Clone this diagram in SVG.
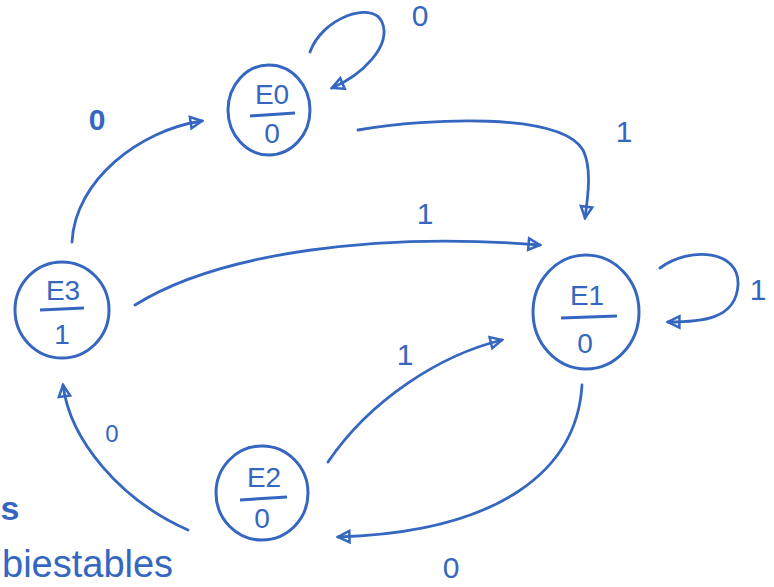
<svg xmlns="http://www.w3.org/2000/svg" width="774" height="587" viewBox="0 0 774 587">
<defs>
<style>
.n{fill:none;stroke:#3567c0;stroke-width:3}
.e{fill:none;stroke:#3567c0;stroke-width:2.8;stroke-linecap:round}
.t{font-family:"Liberation Sans",Arial,sans-serif;fill:#3567c0;text-anchor:middle}
.s{font-size:28px}
.l{font-size:30px}
</style>
<marker id="tri" viewBox="0 0 14 14" refX="12" refY="7" markerWidth="16" markerHeight="16" orient="auto" markerUnits="userSpaceOnUse">
<path d="M2 2 L12 7 L2 12 Z" fill="none" stroke="#3567c0" stroke-width="2.2"/>
</marker>
</defs>
<rect width="774" height="587" fill="#fff"/>
<g id="connectors">
<path class="e" d="M310 52 C322 18 372 0 382 22 C392 46 362 75 332 88" marker-end="url(#tri)"/>
<path class="e" d="M358 130 C430 118 560 112 583 150 C592 168 588 196 585 218" marker-end="url(#tri)"/>
<path class="e" d="M135 305 C220 252 380 232 540 245" marker-end="url(#tri)"/>
<path class="e" d="M72 242 C75 180 140 130 202 121" marker-end="url(#tri)"/>
<path class="e" d="M660 268 C690 246 740 250 738 285 C736 320 700 322 668 322" marker-end="url(#tri)"/>
<path class="e" d="M328 462 C370 400 440 355 502 340" marker-end="url(#tri)"/>
<path class="e" d="M582 385 C577 470 500 532 338 537" marker-end="url(#tri)"/>
<path class="e" d="M188 530 C120 500 70 440 63 385" marker-end="url(#tri)"/>
</g>
<g id="labels">
<text class="t l" x="420" y="26">0</text>
<text class="t l" x="624" y="142">1</text>
<text class="t l" x="425" y="224">1</text>
<text class="t l" x="97" y="130" font-weight="bold">0</text>
<text class="t l" x="758" y="300">1</text>
<text class="t l" x="405" y="365">1</text>
<text class="t" x="112" y="442" font-size="24">0</text>
<text class="t l" x="451" y="578">0</text>
<text class="t" x="10" y="520" font-size="34" font-weight="bold">s</text>
<text class="t" x="2" y="577" font-size="38" style="text-anchor:start">biestables</text>
</g>
<g id="E0">
<ellipse class="n" cx="269" cy="110" rx="41" ry="45"/>
<text class="t s" x="272" y="104">Ε0</text>
<line class="n" x1="250" y1="116" x2="295" y2="113"/>
<text class="t s" x="272" y="143">0</text>
</g>
<g id="E3">
<ellipse class="n" cx="62" cy="310" rx="47" ry="48"/>
<text class="t s" x="63" y="300">Ε3</text>
<line class="n" x1="40" y1="310" x2="84" y2="308"/>
<text class="t s" x="62" y="344">1</text>
</g>
<g id="E1">
<ellipse class="n" cx="586" cy="312" rx="53" ry="57"/>
<text class="t s" x="587" y="305">Ε1</text>
<line class="n" x1="561" y1="318" x2="617" y2="316"/>
<text class="t s" x="585" y="353">0</text>
</g>
<g id="E2">
<ellipse class="n" cx="262" cy="493" rx="46" ry="47"/>
<text class="t s" x="264" y="487">Ε2</text>
<line class="n" x1="240" y1="500" x2="287" y2="497"/>
<text class="t s" x="262" y="528">0</text>
</g>
</svg>
